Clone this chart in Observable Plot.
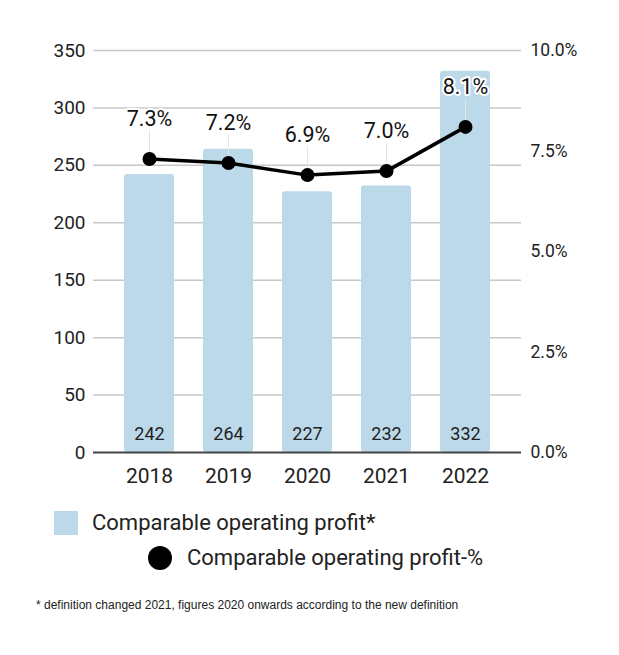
<!DOCTYPE html>
<html>
<head>
<meta charset="utf-8">
<script src="https://cdn.jsdelivr.net/npm/d3@7"></script>
<script src="https://cdn.jsdelivr.net/npm/@observablehq/plot@0.6"></script>
<style>
  body { margin: 0; background: #fff; font-family: Roboto, sans-serif; }
  #wrap { position: relative; width: 619px; height: 655px; }
  .key { position: absolute; display: flex; align-items: center; font-size: 22px; color: #222; }
  .swatch { width: 24px; height: 24px; background: #bcd9ea; margin-right: 14px; }
  .blob { width: 24px; height: 24px; border-radius: 50%; background: #000; margin-right: 15px; }
  #note { position: absolute; left: 36px; top: 598px; font: 12px "Liberation Sans", Arial, sans-serif; color: #222; }
</style>
</head>
<body>
<div id="wrap">
  <div id="chart"></div>
  <div class="key" style="left:54px; top:510px;"><div class="swatch"></div>Comparable operating profit*</div>
  <div class="key" style="left:148px; top:545px;"><div class="blob"></div>Comparable operating profit-%</div>
  <div id="note">* definition changed 2021, figures 2020 onwards according to the new definition</div>
</div>
<script>
const years = ["2018", "2019", "2020", "2021", "2022"];
const profit = [242, 264, 227, 232, 332];
const profitPct = [7.3, 7.2, 6.9, 7.0, 8.1];
const leftTicks = [0, 50, 100, 150, 200, 250, 300, 350];
const pctTicks = [0, 2.5, 5, 7.5, 10];

// right axis 0-10% shares the left 0-350 scale
const k = 350 / 10;
const data = years.map((y, i) => ({year: y, profit: profit[i], pct: profitPct[i]}));

const height = 492, marginTop = 50, marginBottom = 40;
const pxToUnits = 350 / (height - marginTop - marginBottom);

const chart = Plot.plot({
  width: 619,
  height: height,
  marginTop: marginTop,
  marginBottom: marginBottom,
  marginLeft: 93,
  marginRight: 98,
  style: {fontFamily: "Roboto, sans-serif", color: "#222"},
  x: {domain: years, padding: 0.37, label: null},
  y: {domain: [0, 350], label: null},
  marks: [
    Plot.gridY(leftTicks.filter(d => d > 0), {stroke: "#c8c8c8", strokeOpacity: 1, strokeWidth: 1.5}),
    Plot.barY(data, {x: "year", y: "profit", fill: "#bcd9ea", rx: 3}),
    Plot.ruleY([0], {stroke: "#444", strokeWidth: 2}),
    Plot.text(data, {x: "year", y: 0, text: d => d.profit, dy: -18, fontSize: 18, fill: "#222"}),
    Plot.ruleX(data, {x: "year", y1: d => d.pct * k, y2: d => d.pct * k + 28 * pxToUnits, stroke: "#e4e4e4", strokeWidth: 1}),
    Plot.line(data, {x: "year", y: d => d.pct * k, stroke: "#000", strokeWidth: 3.5}),
    Plot.dot(data, {x: "year", y: d => d.pct * k, r: 7, fill: "#000"}),
    Plot.text(data, {x: "year", y: d => d.pct * k, text: d => d.pct.toFixed(1) + "%", dy: -40,
      fontSize: 21.5, fill: "#111", stroke: "#fff", strokeWidth: 4}),
    Plot.axisY(leftTicks, {anchor: "left", tickSize: 0, tickPadding: 8, fontSize: 19, label: null}),
    Plot.axisY(pctTicks.map(v => v * k), {anchor: "right", tickSize: 0, tickPadding: 9, fontSize: 17.5,
      tickFormat: v => (v / k).toFixed(1) + "%", label: null}),
    Plot.axisX({tickSize: 0, tickPadding: 16, fontSize: 21, label: null})
  ]
});

d3.select("#chart").append(() => chart);
</script>
</body>
</html>
